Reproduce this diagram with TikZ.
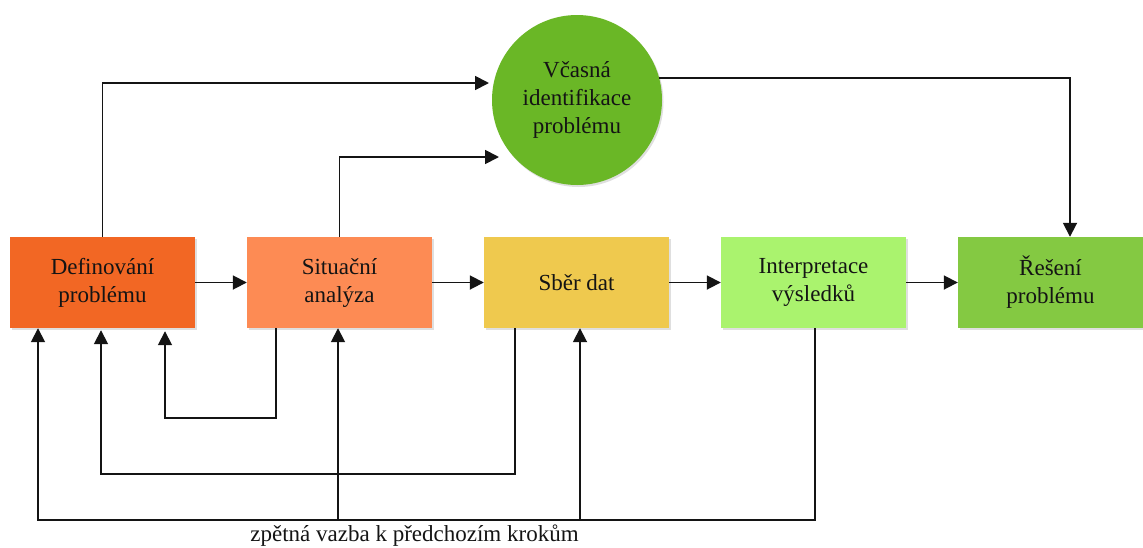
\documentclass[tikz,border=0pt]{standalone}
\usepackage{fontspec}
\setmainfont{Liberation Serif}
\usetikzlibrary{arrows.meta,shadows}
\definecolor{cDef}{RGB}{242,103,36}
\definecolor{cSit}{RGB}{253,139,84}
\definecolor{cSber}{RGB}{239,201,78}
\definecolor{cInt}{RGB}{170,243,110}
\definecolor{cRes}{RGB}{132,201,66}
\definecolor{cCirc}{RGB}{106,183,38}
\definecolor{ink}{RGB}{20,20,20}
\begin{document}
\begin{tikzpicture}[x=1pt,y=-1pt,
  lbl/.style={font=\fontsize{23}{28}\selectfont, text=ink, align=center},
  stepbox/.style={lbl, rectangle, minimum width=185pt, minimum height=91pt, inner sep=0pt,
    drop shadow={opacity=0.25, shadow xshift=1.5pt, shadow yshift=-2pt}},
  link/.style={line width=1.8pt, draw=ink},
  arr/.style={link, -{Triangle[length=14pt,width=14pt]}}
]
\useasboundingbox (0,0) rectangle (1143,547);
\clip (0,0) rectangle (1143,547);

% process steps
\node[stepbox, fill=cDef]  (def)    at (102.5,282.5) {Definování\\problému};
\node[stepbox, fill=cSit]  (sit)    at (339.5,282.5) {Situační\\analýza};
\node[stepbox, fill=cSber] (sber)   at (576.5,282.5) {Sběr dat};
\node[stepbox, fill=cInt]  (interp) at (813.5,282.5) {Interpretace\\výsledků};
\node[stepbox, fill=cRes]  (res)    at (1050.5,282.5) {Řešení\\problému};

% early identification
\node[lbl, circle, fill=cCirc, minimum size=170pt, inner sep=0pt,
  drop shadow={opacity=0.25, shadow xshift=1.5pt, shadow yshift=-2pt}]
  (circ) at (577,100) {Včasná\\identifikace\\problému};

% main flow
\draw[arr] (def) -- (sit);
\draw[arr] (sit) -- (sber);
\draw[arr] (sber) -- (interp);
\draw[arr] (interp) -- (res);

% paths to and from the circle
\coordinate (inA) at (489,83);
\coordinate (inB) at (499,157);
\coordinate (rtop) at ([xshift=19.5pt]res.north);
\draw[arr] (def.north) |- (inA);
\draw[arr] (sit.north) |- (inB);
\draw[arr] (circ.15) -| (rtop);

% feedback loops
\coordinate (sitOut) at ([xshift=-63.5pt]sit.south);
\coordinate (defIn3) at ([xshift=62.5pt,yshift=-3pt]def.south);
\coordinate (sbOut)  at ([xshift=-61.5pt]sber.south);
\coordinate (defIn2) at ([xshift=-1.5pt,yshift=-2pt]def.south);
\coordinate (defIn1) at ([xshift=-64.5pt]def.south);
\coordinate (sitIn)  at ([xshift=-1.5pt]sit.south);
\coordinate (sbIn)   at ([xshift=3.5pt]sber.south);
\coordinate (inner)  at (0,418);
\coordinate (middle) at (0,474);
\coordinate (outer)  at (0,520);

\draw[arr] (sitOut) |- (defIn3 |- inner) -- (defIn3);
\draw[arr] (sbOut) |- (defIn2 |- middle) -- (defIn2);
\draw[arr] ([xshift=1.5pt]interp.south) |- (defIn1 |- outer) -- (defIn1);
\draw[arr] (sitIn |- outer) -- (sitIn);
\draw[arr] (sbIn |- outer) -- (sbIn);

\node[lbl, anchor=base] (fb) at (414.5,541) {zpětná vazba k předchozím krokům};
\end{tikzpicture}
\end{document}
